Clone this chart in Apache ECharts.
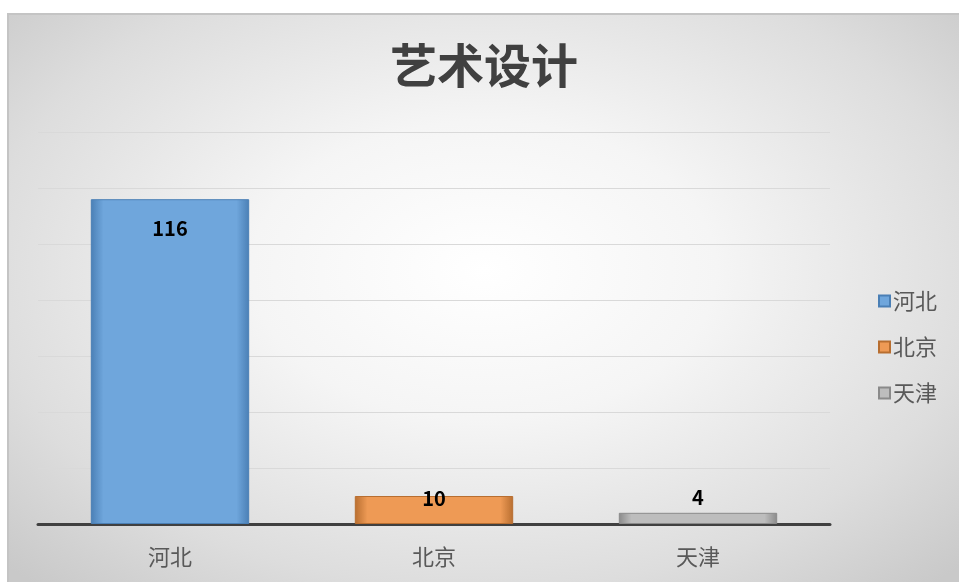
<!DOCTYPE html>
<html>
<head>
<meta charset="utf-8">
<script src="https://cdn.jsdelivr.net/npm/echarts@6/dist/echarts.min.js"></script>
<style>
html,body{margin:0;padding:0;background:#fff;width:959px;height:582px;overflow:hidden;}
#wrap{position:absolute;left:7px;top:13px;width:952px;height:569px;box-sizing:border-box;border-top:2px solid #c4c4c4;border-left:2px solid #c4c4c4;
background:radial-gradient(ellipse 70% 75% at 50% 45%, #ffffff 0%, #f5f5f5 35%, #dddddd 75%, #c9c9c9 100%);}
#main{width:950px;height:567px;}
</style>
</head>
<body>
<div id="wrap"><div id="main"></div></div>
<script>
const title = '艺术设计';
const categories = ['河北', '北京', '天津'];
const seriesNames = ['河北', '北京', '天津'];
const values = [116, 10, 4];
const colors = ['#6fa6dc', '#ee9a55', '#bdbdbd'];
const edgeColors = ['#4a7fb5', '#b86e30', '#8a8a8a'];

const labelPos = [
  {position: 'insideTop', distance: 19},
  {position: 'top', distance: -12},
  {position: 'top', distance: 5}
];

const series = seriesNames.map((name, i) => ({
  name: name,
  type: 'bar',
  stack: 'all',
  barWidth: '60%',
  data: categories.map((c, j) => j === i ? values[i] : '-'),
  itemStyle: {
    color: {
      type: 'linear', x: 0, y: 0, x2: 1, y2: 0,
      colorStops: [
        {offset: 0, color: edgeColors[i]},
        {offset: 0.08, color: colors[i]},
        {offset: 0.92, color: colors[i]},
        {offset: 1, color: edgeColors[i]}
      ]
    },
    borderColor: edgeColors[i],
    borderWidth: 1
  },
  label: {
    show: true,
    position: labelPos[i].position,
    distance: labelPos[i].distance,
    color: '#000',
    fontWeight: 'bold',
    fontSize: 20,
    fontFamily: 'Noto Sans CJK SC, Noto Sans, sans-serif'
  }
}));

const chart = echarts.init(document.getElementById('main'));
chart.setOption({
  animation: false,
  color: colors,
  title: {
    text: title,
    left: 'center',
    top: 22,
    textStyle: {fontSize: 47, fontWeight: 'bold', color: '#404040', fontFamily: 'Noto Sans CJK SC, sans-serif'}
  },
  legend: {
    orient: 'vertical',
    left: 864,
    top: 270,
    itemGap: 24,
    itemWidth: 11,
    itemHeight: 11,
    icon: 'rect',
    data: seriesNames,
    textStyle: {fontSize: 22, color: '#595959', fontFamily: 'Noto Sans CJK SC, sans-serif', padding: [0,0,0,-2]}
  },
  grid: {left: 29, right: 129, top: 117, bottom: 58, containLabel: false},
  xAxis: {
    type: 'category',
    data: categories,
    axisLine: {lineStyle: {color: '#404040', width: 3}},
    axisTick: {show: false},
    axisLabel: {fontSize: 22, color: '#595959', margin: 22, fontFamily: 'Noto Sans CJK SC, sans-serif'}
  },
  yAxis: {
    type: 'value',
    min: 0,
    max: 140,
    interval: 20,
    axisLabel: {show: false},
    axisLine: {show: false},
    axisTick: {show: false},
    splitLine: {lineStyle: {color: '#d9d9d9', width: 1}}
  },
  series: series
});
</script>
</body>
</html>
